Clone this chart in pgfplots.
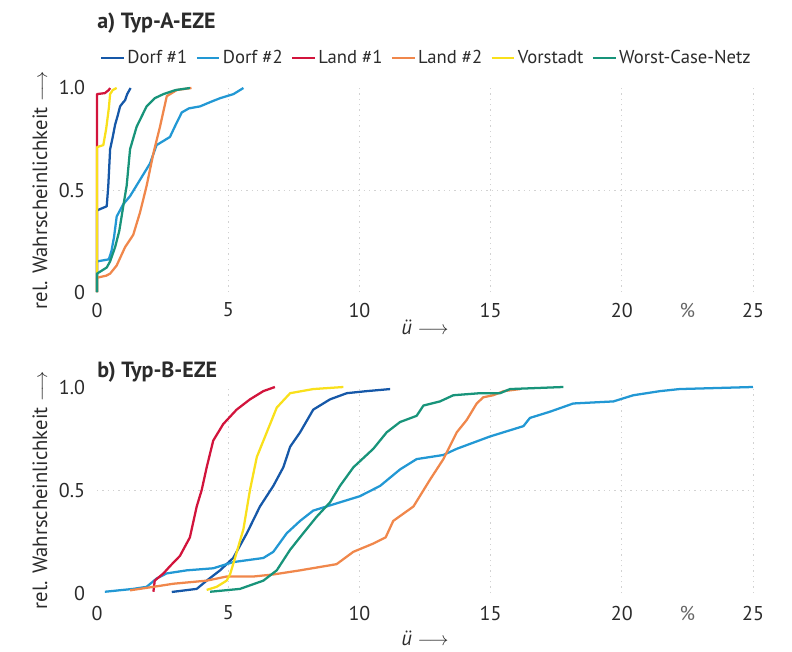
\documentclass[border=0pt]{standalone}
\usepackage{fontspec}
\setmainfont{PT Sans}
\usepackage{pgfplots}
\pgfplotsset{compat=1.18}
\definecolor{dorfA}{HTML}{1658A8}
\definecolor{dorfB}{HTML}{2298D4}
\definecolor{landA}{HTML}{D2143C}
\definecolor{landB}{HTML}{F0874B}
\definecolor{vorst}{HTML}{F9E01B}
\definecolor{worst}{HTML}{18947A}
\definecolor{txt}{HTML}{2B2B2B}
\newcommand{\gap}{\rule{4.5pt}{0pt}}
\pgfplotsset{
  panel/.style={
    scale only axis, width=492pt,
    xmin=0, xmax=25, ymin=0, ymax=1,
    clip=false,
    axis line style={draw=none},
    tick style={draw=none},
    major tick length=0pt,
    xtick={5,10,15,20,25}, xticklabels={5,10,15,20,25},
    extra x ticks={0,22.5}, extra x tick labels={0,\textcolor{gray!80!black}{\%}},
    extra x tick style={grid=none},
    xmajorgrids=true,
    ytick={0,1}, yticklabels={0,1.0},
    extra y ticks={0.5}, extra y tick labels={0.5},
    extra y tick style={ymajorgrids=true},
    major grid style={gray!35, line width=0.6pt, dash pattern=on 1pt off 3pt},
    /pgf/number format/assume math mode=true,
    tick label style={font=\fontsize{15}{18}\selectfont, text=txt},
    yticklabel style={xshift=-5.5pt},
    ylabel={rel. Wahrscheinlichkeit $\longrightarrow$},
    every axis y label/.style={at={(rel axis cs:-0.0869,0.5)}, rotate=90, anchor=center, font=\fontsize{15.5}{18}\selectfont, text=txt},
    xlabel={\textit{ü} $\longrightarrow$},
    every axis plot/.append style={line width=1.7pt, line join=round},
    legend image code/.code={\draw[#1, line width=2.2pt] (0pt,0pt) -- (17pt,0pt);},
  }
}
\begin{document}
\begin{tikzpicture}
\useasboundingbox (0,0) rectangle (594pt,488.25pt);
% ---------------- panel a
\begin{axis}[panel, height=153pt,
  at={(72.75pt,269.25pt)}, anchor=south west,
  xticklabel style={anchor=center, yshift=-13.5pt},
  every axis x label/.style={at={(rel axis cs:0.5,-0.172)}, anchor=center, font=\fontsize{15.5}{18}\selectfont, text=txt},
  legend columns=6, legend cell align=left,
  legend style={draw=none, fill=none, inner sep=0pt, at={(rel axis cs:0.004,1.147)}, anchor=west,
    font=\fontsize{14}{16}\selectfont, text=txt,
    nodes={inner xsep=1.5pt}, column sep=0pt},
]
\addplot[dorfA] coordinates {(0,0) (0,0.40) (0.37,0.42) (0.43,0.52) (0.5,0.70) (0.6,0.76) (0.69,0.82) (0.8,0.87) (0.88,0.91) (1.0,0.93) (1.07,0.94) (1.15,0.97) (1.28,1.0)};
\addlegendentry{Dorf \#1\gap}
\addplot[dorfB] coordinates {(0,0) (0,0.15) (0.45,0.16) (0.55,0.2) (0.65,0.27) (0.75,0.37) (1.0,0.43) (1.26,0.47) (1.64,0.55) (2.02,0.63) (2.27,0.72) (2.78,0.76) (3.0,0.82) (3.23,0.88) (3.5,0.90) (3.93,0.91) (4.3,0.93) (4.69,0.95) (5.2,0.97) (5.58,1.0)};
\addlegendentry{Dorf \#2\gap}
\addplot[landA] coordinates {(0,0) (0,0.97) (0.3,0.975) (0.45,0.99) (0.5,1.0)};
\addlegendentry{Land \#1\gap}
\addplot[landB] coordinates {(0,0) (0,0.07) (0.35,0.08) (0.5,0.09) (0.75,0.13) (1.07,0.22) (1.38,0.28) (1.64,0.39) (1.89,0.52) (2.15,0.68) (2.4,0.81) (2.66,0.96) (3.04,0.99) (3.6,1.0)};
\addlegendentry{Land \#2\gap}
\addplot[vorst] coordinates {(0,0) (0,0.71) (0.24,0.72) (0.35,0.8) (0.45,0.9) (0.5,0.97) (0.6,0.99) (0.75,1.0)};
\addlegendentry{Vorstadt\gap}
\addplot[worst] coordinates {(0,0) (0,0.09) (0.37,0.12) (0.5,0.15) (0.69,0.22) (0.85,0.3) (1.0,0.42) (1.13,0.52) (1.26,0.70) (1.51,0.81) (1.89,0.91) (2.2,0.95) (2.53,0.97) (3.0,0.99) (3.54,1.0)};
\addlegendentry{Worst-Case-Netz}
\end{axis}
% ---------------- panel b
\begin{axis}[panel, height=154.5pt,
  at={(72.75pt,43.5pt)}, anchor=south west,
  xticklabel style={anchor=center, yshift=-15pt},
  every axis x label/.style={at={(rel axis cs:0.5,-0.222)}, anchor=center, font=\fontsize{15.5}{18}\selectfont, text=txt},
]
\addplot[dorfA] coordinates {(2.85,0.005) (3.8,0.02) (4.18,0.06) (4.69,0.11) (5.19,0.17) (5.71,0.29) (6.21,0.42) (6.72,0.52) (7.1,0.61) (7.36,0.71) (7.74,0.78) (8.24,0.89) (8.88,0.94) (9.52,0.97) (10.28,0.98) (11.17,0.99)};
\addplot[dorfB] coordinates {(0.3,0.006) (1.38,0.02) (1.89,0.03) (2.27,0.07) (2.65,0.095) (3.42,0.11) (4.43,0.12) (5.19,0.15) (6.34,0.17) (6.72,0.2) (7.23,0.29) (7.74,0.35) (8.24,0.4) (9.0,0.43) (10.02,0.47) (10.79,0.52) (11.55,0.6) (12.18,0.65) (13.2,0.67) (13.71,0.7) (14.98,0.76) (16.25,0.81) (16.5,0.85) (17.26,0.88) (18.15,0.92) (19.68,0.93) (20.44,0.96) (21.46,0.98) (22.2,0.99) (25.0,1.0)};
\addplot[landA] coordinates {(2.15,0.006) (2.2,0.06) (2.53,0.095) (2.78,0.13) (3.16,0.18) (3.54,0.27) (3.8,0.42) (3.99,0.50) (4.18,0.61) (4.43,0.74) (4.81,0.82) (5.32,0.89) (5.83,0.94) (6.34,0.98) (6.78,1.0)};
\addplot[landB] coordinates {(1.26,0.013) (2.15,0.03) (2.91,0.045) (4.18,0.06) (4.94,0.08) (5.96,0.08) (6.72,0.09) (7.74,0.11) (9.13,0.14) (9.77,0.2) (10.53,0.24) (11.0,0.27) (11.29,0.35) (12.06,0.42) (12.69,0.55) (13.2,0.65) (13.71,0.78) (14.09,0.84) (14.47,0.92) (14.72,0.95) (15.1,0.96) (15.5,0.98) (16.13,0.99)};
\addplot[vorst] coordinates {(4.18,0.015) (4.56,0.03) (4.94,0.06) (5.07,0.09) (5.26,0.17) (5.58,0.31) (5.83,0.5) (6.09,0.66) (6.47,0.78) (6.85,0.9) (7.36,0.97) (8.24,0.99) (9.39,1.0)};
\addplot[worst] coordinates {(4.31,0.006) (5.45,0.02) (6.34,0.06) (6.85,0.11) (7.36,0.21) (7.86,0.29) (8.37,0.37) (8.88,0.44) (9.26,0.52) (9.77,0.61) (10.53,0.7) (11.04,0.78) (11.55,0.83) (12.18,0.86) (12.44,0.91) (13.07,0.93) (13.58,0.96) (14.6,0.97) (15.36,0.97) (15.74,0.99) (17.77,1.0)};
\end{axis}
\node[anchor=west, inner sep=0pt, font=\bfseries\fontsize{16.5}{19}\selectfont, text=txt] at (72.75pt,471pt) {a) Typ-A-EZE};
\node[anchor=west, inner sep=0pt, font=\bfseries\fontsize{16.5}{19}\selectfont, text=txt] at (72.75pt,209.25pt) {b) Typ-B-EZE};
\end{tikzpicture}
\end{document}
